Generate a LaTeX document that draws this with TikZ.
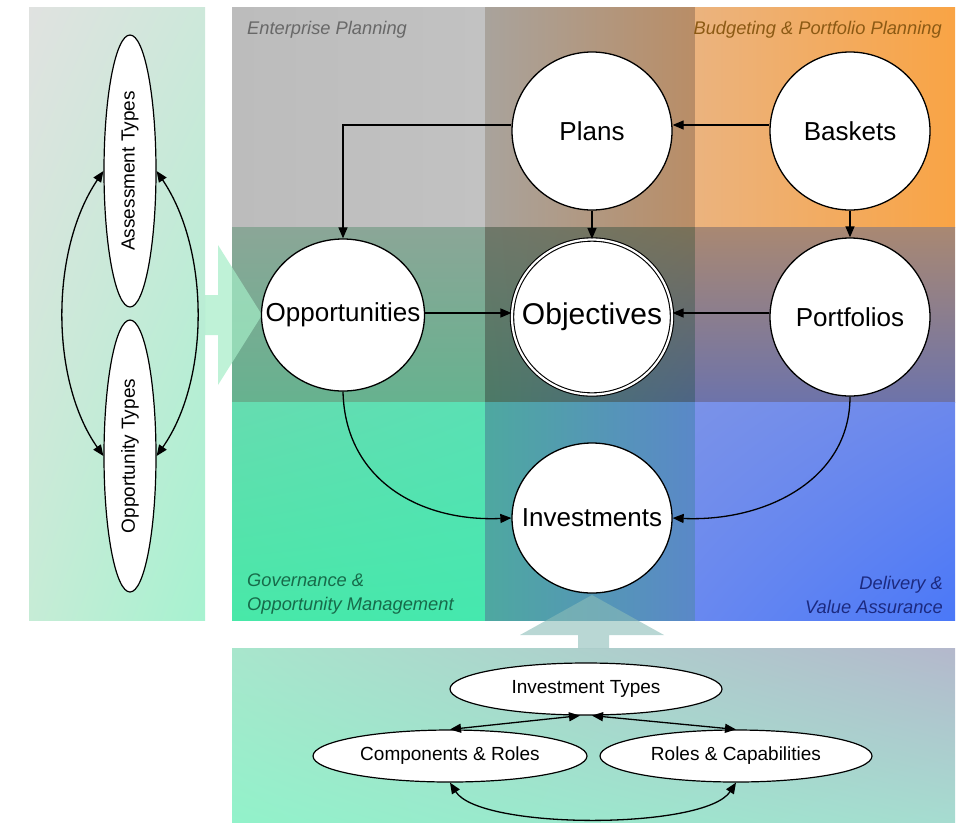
\documentclass[tikz,border=0pt]{standalone}
\usepackage{fontspec}
\setmainfont{Liberation Sans}
\usetikzlibrary{shapes.geometric,arrows.meta,shadings}

\definecolor{leftTL}{HTML}{E0E2E0}
\definecolor{leftTR}{HTML}{CDE8DA}
\definecolor{leftBL}{HTML}{C6ECD6}
\definecolor{leftBR}{HTML}{A6F2D0}
\definecolor{lowTL}{HTML}{A8E6CC}
\definecolor{lowTR}{HTML}{B4B8CC}
\definecolor{lowBL}{HTML}{92F2CA}
\definecolor{lowBR}{HTML}{A6DCD0}
\definecolor{epA}{HTML}{BCBCBC}
\definecolor{epB}{HTML}{C2C2C2}
\definecolor{tmA}{HTML}{A9A39C}
\definecolor{tmB}{HTML}{B98D66}
\definecolor{bpA}{HTML}{EBB37E}
\definecolor{bpB}{HTML}{F9A445}
\definecolor{mlA}{HTML}{8BA697}
\definecolor{mlB}{HTML}{66B28F}
\definecolor{ctrTL}{HTML}{6F786A}
\definecolor{ctrTR}{HTML}{7A7158}
\definecolor{ctrBL}{HTML}{4C7A66}
\definecolor{ctrBR}{HTML}{4D6585}
\definecolor{mrA}{HTML}{A98872}
\definecolor{mrB}{HTML}{6D73AA}
\definecolor{blTL}{HTML}{66DCB0}
\definecolor{blTR}{HTML}{5AE0B4}
\definecolor{blBL}{HTML}{48E8A8}
\definecolor{blBR}{HTML}{45E8AE}
\definecolor{bmA}{HTML}{4EA8A0}
\definecolor{bmB}{HTML}{5A88C8}
\definecolor{brTL}{HTML}{7A92E8}
\definecolor{brTR}{HTML}{6C88EC}
\definecolor{brBL}{HTML}{6888F0}
\definecolor{brBR}{HTML}{4A78F8}
\definecolor{arrowgreen}{HTML}{A4ECC6}
\definecolor{arrowteal}{HTML}{8ABCB8}
\definecolor{epText}{HTML}{686868}
\definecolor{bpText}{HTML}{8C5A14}
\definecolor{goText}{HTML}{176B4A}
\definecolor{dvText}{HTML}{1C2A80}

\begin{document}
\begin{tikzpicture}[x=1pt,y=-1pt,
    bubble/.style={ellipse, draw, fill=white, line width=1.3pt, minimum width=160pt,
      minimum height=158pt, inner sep=0pt, font=\fontsize{26}{28}\selectfont},
    kind/.style={ellipse, draw, fill=white, line width=1.2pt, minimum width=272pt,
      minimum height=52pt, inner sep=0pt, font=\fontsize{19}{21}\selectfont},
    link/.style={-{Triangle[length=11pt,width=9pt]}, line width=1.3pt},
    bilink/.style={{Triangle[length=11pt,width=9pt]}-{Triangle[length=11pt,width=9pt]}, line width=1.3pt},
    area/.style={inner sep=0pt, font=\fontsize{18.3}{24}\selectfont\itshape}]
    \useasboundingbox (0,0) rectangle (968,823);

    % Side panels
    \shade[upper left=leftTL, upper right=leftTR, lower left=leftBL, lower right=leftBR] (29,7) rectangle (205,620);
    \shade[upper left=lowTL, upper right=lowTR, lower left=lowBL, lower right=lowBR] (232,648) rectangle (955,822);

    % Grid of planning areas
    \shade[left color=epA, right color=epB] (232,7) rectangle (485,227);
    \shade[left color=tmA, right color=tmB] (485,7) rectangle (695,227);
    \shade[left color=bpA, right color=bpB] (695,7) rectangle (955,227);
    \shade[top color=mlA, bottom color=mlB] (232,227) rectangle (485,402);
    \shade[upper left=ctrTL, upper right=ctrTR, lower left=ctrBL, lower right=ctrBR] (485,227) rectangle (695,402);
    \shade[top color=mrA, bottom color=mrB] (695,227) rectangle (955,402);
    \shade[upper left=blTL, upper right=blTR, lower left=blBL, lower right=blBR] (232,402) rectangle (485,620);
    \shade[left color=bmA, right color=bmB] (485,402) rectangle (695,620);
    \shade[upper left=brTL, upper right=brTR, lower left=brBL, lower right=brBR] (695,402) rectangle (955,620);

    % Big arrows between panels
    \fill[arrowgreen, opacity=0.7] (205,295) -- (218,295) -- (218,245) -- (262,315) -- (218,385) -- (218,335) -- (205,335) -- cycle;
    \fill[arrowteal, opacity=0.6] (578,648) -- (578,635) -- (520,635) -- (592,595) -- (664,635) -- (609,635) -- (609,648) -- cycle;

    % Area titles
    \node[area, text=epText, anchor=west] (eplabel) at (247,30) {Enterprise Planning};
    \node[area, text=bpText, anchor=east] (bplabel) at (942,30) {Budgeting \& Portfolio Planning};
    \node[area, text=goText, anchor=south west, align=left] (golabel) at (247,614) {Governance \&\\Opportunity Management};
    \node[area, text=dvText, anchor=south east, align=right] (dvlabel) at (943,614) {Delivery \&\\Value Assurance};

    % Main entities
    \node[bubble] (plans) at (592,131) {\makebox[0pt]{Plans}};
    \node[bubble] (baskets) at (850,131) {\makebox[0pt]{Baskets}};
    \node[bubble, minimum width=163pt, minimum height=152pt] (opps) at (343,315) {\makebox[0pt]{Opportunities}};
    \node[bubble, double=white, double distance=2.2pt, line width=1.1pt, minimum width=160pt,
      minimum height=155pt, font=\fontsize{30}{32}\selectfont] (objectives) at (592,317) {\makebox[0pt]{Objectives}};
    \node[bubble] (portfolios) at (850,317) {\makebox[0pt]{Portfolios}};
    \node[bubble, minimum height=150pt] (investments) at (592,518) {\makebox[0pt]{Investments}};

    \draw[link] ([yshift=6pt]baskets.west) -- ([yshift=6pt]plans.east);
    \draw[link] ([yshift=6pt]plans.west) -| (opps.north);
    \draw[link] (plans.south) -- (objectives.north);
    \draw[link] (baskets.south) -- (portfolios.north);
    \draw[link] ([yshift=2pt]opps.east) -- ([yshift=4pt]objectives.west);
    \draw[link] ([yshift=4pt]portfolios.west) -- ([yshift=4pt]objectives.east);
    \draw[link] (opps.south) .. controls (345,480) and (420,522) .. (investments.west);
    \draw[link] (portfolios.south) .. controls (850,480) and (765,522) .. (investments.east);

    % Types on the left
    \node[kind, rotate=90] (assess) at (130,171) {Assessment Types};
    \node[kind, rotate=90] (opptypes) at (130,456) {Opportunity Types};
    \draw[bilink] (assess.north) .. controls (50,250) and (50,380) .. (opptypes.north);
    \draw[bilink] (assess.south) .. controls (210,250) and (210,380) .. (opptypes.south);

    % Types below
    \node[kind] (invtypes) at (586,689) {Investment Types};
    \node[kind, minimum width=274pt] (comproles) at (450,756) {Components \& Roles};
    \node[kind] (rolecaps) at (736,756) {Roles \& Capabilities};
    \draw[bilink] ([xshift=-6pt]invtypes.south) -- (comproles.north);
    \draw[bilink] ([xshift=6pt]invtypes.south) -- (rolecaps.north);
    \draw[bilink] (comproles.south) .. controls (480,830) and (705,830) .. (rolecaps.south);
\end{tikzpicture}
\end{document}
